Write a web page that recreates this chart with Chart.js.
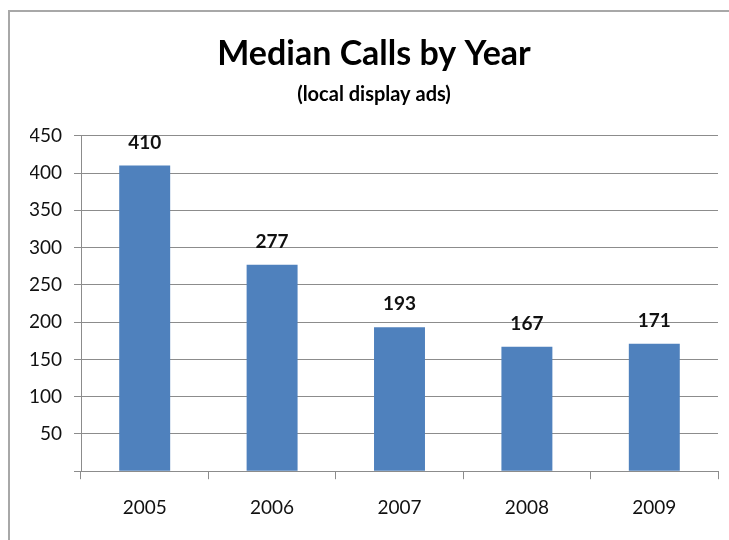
<!DOCTYPE html>
<html>
<head>
<meta charset="utf-8">
<script src="https://cdn.jsdelivr.net/npm/chart.js@4/dist/chart.umd.min.js"></script>
<style>
  html, body { margin: 0; padding: 0; background: #fff; }
  #wrap { width: 729px; height: 540px; }
</style>
</head>
<body>
<div id="wrap"><canvas id="chartCalls"></canvas></div>
<script>
// median calls per year
const years = ["2005", "2006", "2007", "2008", "2009"];
const medianCalls = [410, 277, 193, 167, 171];
const yTicks = [0, 50, 100, 150, 200, 250, 300, 350, 400, 450];

const FONT = "Lato, 'Liberation Sans', sans-serif";
const GRID = "#8c8c8c";

// grey frame round the whole chart
const framePlugin = {
  id: "frame",
  beforeDraw(chart) {
    const c = chart.ctx;
    c.save();
    c.fillStyle = "#fff";
    c.fillRect(0, 0, chart.width, chart.height);
    c.strokeStyle = "#a8a8a8";
    c.lineWidth = 2;
    c.strokeRect(9, 11, chart.width + 20, chart.height + 20);
    c.restore();
  }
};

// numbers above each bar
const valueLabels = {
  id: "valueLabels",
  afterDatasetsDraw(chart) {
    const c = chart.ctx;
    const meta = chart.getDatasetMeta(0);
    c.save();
    c.font = "bold 19px " + FONT;
    c.fillStyle = "#111";
    c.textAlign = "center";
    c.textBaseline = "middle";
    meta.data.forEach((bar, i) => {
      c.fillText(String(medianCalls[i]), bar.x, bar.y - 23);
    });
    c.restore();
  }
};

new Chart(document.getElementById("chartCalls"), {
  type: "bar",
  data: {
    labels: years,
    datasets: [{
      data: medianCalls,
      backgroundColor: "#4f81bd",
      borderWidth: 0,
      barPercentage: 0.4,
      categoryPercentage: 1
    }]
  },
  options: {
    responsive: true,
    maintainAspectRatio: false,
    animation: false,
    layout: { padding: { left: 30, right: 11, top: 0, bottom: 4 } },
    plugins: {
      legend: { display: false },
      tooltip: { enabled: false },
      title: {
        display: true,
        text: "Median Calls by Year",
        color: "#000",
        font: { family: FONT, size: 34, weight: "bold" },
        padding: { top: 34, bottom: 8 }
      },
      subtitle: {
        display: true,
        text: "(local display ads)",
        color: "#000",
        font: { family: FONT, size: 20, weight: "bold" },
        padding: { top: 0, bottom: 29 }
      }
    },
    scales: {
      x: {
        grid: {
          offset: true,
          drawOnChartArea: false,
          drawTicks: true,
          tickLength: 8,
          color: GRID
        },
        border: { color: GRID, width: 1 },
        ticks: {
          color: "#111",
          font: { family: FONT, size: 19 },
          padding: 17
        }
      },
      y: {
        min: 0,
        max: 450,
        afterBuildTicks(scale) {
          scale.ticks = yTicks.map(v => ({ value: v }));
        },
        afterFit(scale) { scale.width = 51; },
        grid: { color: GRID, tickLength: 7, drawTicks: true },
        border: { color: GRID, width: 1 },
        ticks: {
          color: "#111",
          font: { family: FONT, size: 19 },
          padding: 12,
          callback: v => (v === 0 ? "" : v)
        }
      }
    }
  },
  plugins: [framePlugin, valueLabels]
});
</script>
</body>
</html>
